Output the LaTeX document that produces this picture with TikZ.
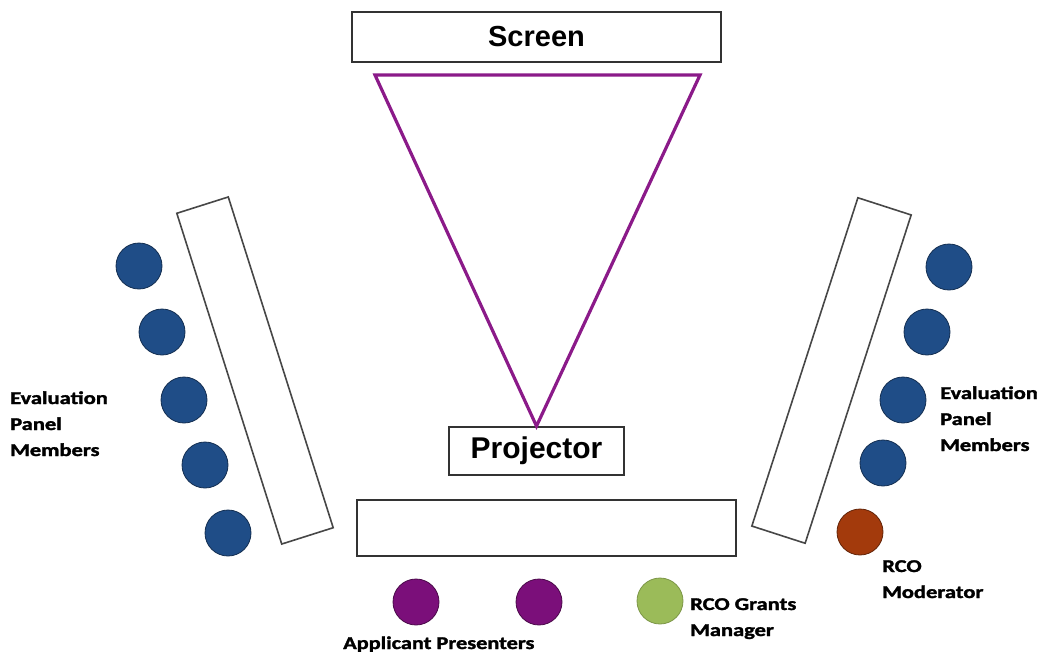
\documentclass[tikz,border=0pt]{standalone}
\usepackage{fontspec}
\usepackage{graphicx}
\newfontfamily\arialf{Liberation Sans}
\newfontfamily\calf[FakeBold=1.5]{Carlito}
\definecolor{beamc}{HTML}{8B1A89}
\definecolor{panelc}{HTML}{1F4D87}
\definecolor{presc}{HTML}{7B0F7A}
\definecolor{grantc}{HTML}{9BBB59}
\definecolor{modc}{HTML}{A33A0C}
\definecolor{linec}{HTML}{333333}
\begin{document}
\begin{tikzpicture}[x=1pt,y=-1pt,
  box/.style={draw=linec, line width=1.8pt, fill=white, inner sep=0pt},
  desk/.style={draw=linec!90, line width=1.6pt, fill=white, inner sep=0pt},
  seat/.style={circle, minimum size=46pt, inner sep=0pt, line width=0.8pt},
  panel/.style={seat, fill=panelc, draw=panelc!60!black},
  pres/.style={seat, fill=presc, draw=presc!60!black},
  grant/.style={seat, fill=grantc, draw=grantc!80!black},
  moder/.style={seat, fill=modc, draw=modc!60!black},
  beam/.style={draw=beamc, line width=3.2pt, line join=miter},
  lab/.style={inner sep=0pt, anchor=base west, font=\calf\bfseries\fontsize{18}{26}\selectfont}
]
\useasboundingbox (0,0) rectangle (1038,654);

% screen and projector
\node[box, minimum width=369pt, minimum height=50pt, font=\arialf\bfseries\fontsize{29}{32}\selectfont] (screen) at (536.5,37) {Screen};
\node[box, minimum width=175pt, minimum height=48pt, font=\arialf\bfseries\fontsize{30}{32}\selectfont] (proj) at (536.5,451) {Projector};
\coordinate (tl) at (375,75);
\coordinate (tr) at (700,75);
\draw[beam] (tl) -- (tr) -- (proj.north) -- cycle;

% tables
\node[box, minimum width=379pt, minimum height=56pt] (table) at (546.5,528) {};
\node[desk, minimum width=54pt, minimum height=347pt, rotate=17.6] (ldesk) at (255,370.5) {};
\node[desk, minimum width=56pt, minimum height=345pt, rotate=-17.9] (rdesk) at (831.5,370.5) {};

% left panel
\node[panel] (l1) at (139,266) {};
\node[panel] (l2) at (162,332) {};
\node[panel] (l3) at (184,400) {};
\node[panel] (l4) at (205,465) {};
\node[panel] (l5) at (228,533) {};

% right panel
\node[panel] (r1) at (949,267) {};
\node[panel] (r2) at (927,332) {};
\node[panel] (r3) at (903,400) {};
\node[panel] (r4) at (883,463) {};
\node[moder] (mod) at (860,532) {};

% presenters and grants manager
\node[pres] (p1) at (416,602) {};
\node[pres] (p2) at (539,602) {};
\node[grant] (gm) at (660,601) {};

% labels
\node[lab] (llab) at (10,404) {\scalebox{1.25}[1]{\begin{tabular}[t]{@{}l@{}}Evaluation\\Panel\\Members\end{tabular}}};
\node[lab] (rlab) at (940,399) {\scalebox{1.25}[1]{\begin{tabular}[t]{@{}l@{}}Evaluation\\Panel\\Members\end{tabular}}};
\node[lab] (modlab) at (882,572) {\scalebox{1.25}[1]{\begin{tabular}[t]{@{}l@{}}RCO\\Moderator\end{tabular}}};
\node[lab] (gmlab) at (690,610) {\scalebox{1.25}[1]{\begin{tabular}[t]{@{}l@{}}RCO Grants\\Manager\end{tabular}}};
\node[lab] (plab) at (343,649) {\scalebox{1.24}[1]{Applicant Presenters}};
\end{tikzpicture}
\end{document}
